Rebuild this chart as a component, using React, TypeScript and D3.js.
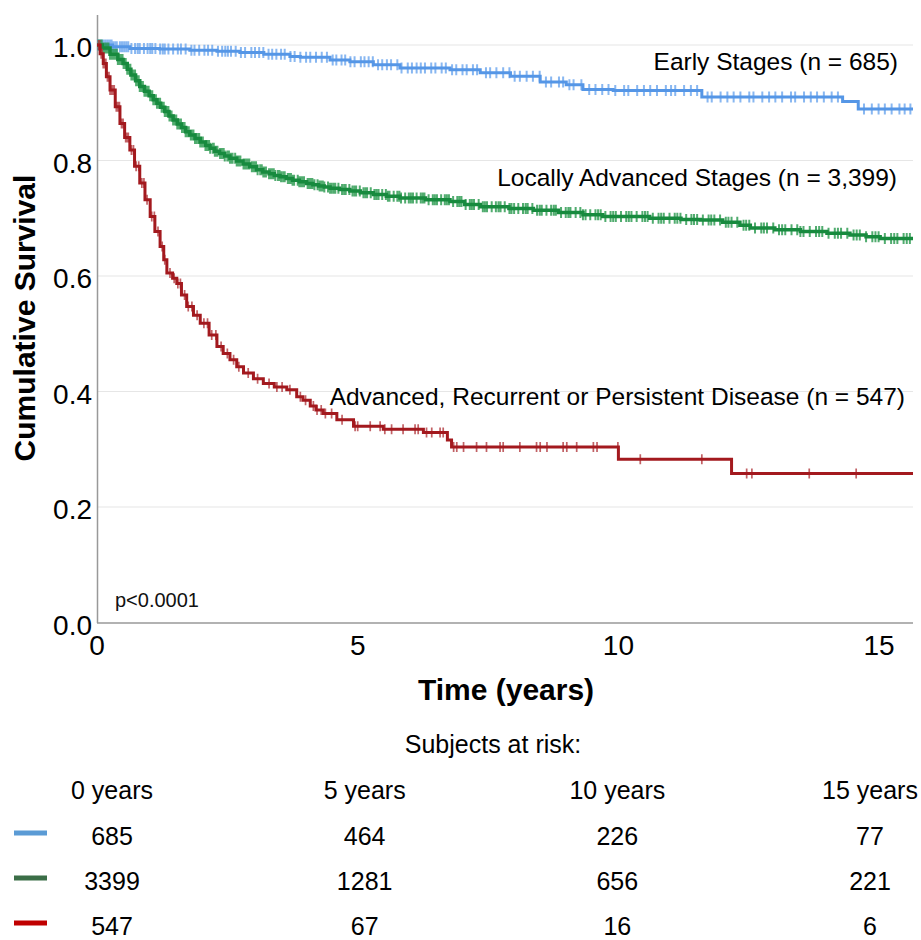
import React from 'react';
import * as d3 from 'd3';

const FONT = '"Liberation Sans", Arial, Helvetica, sans-serif';

// Kaplan-Meier step points [time (years), cumulative survival]
const earlySteps: [number, number][] = [
  [0, 1.0], [0.3, 0.997], [0.63, 0.994], [1.2, 0.993], [1.78, 0.991], [2.3, 0.989],
  [2.74, 0.987], [3.2, 0.984], [3.7, 0.98], [3.9, 0.979], [4.47, 0.974], [4.85, 0.971],
  [5.3, 0.966], [5.81, 0.96], [6.77, 0.957], [7.35, 0.952], [7.93, 0.946], [8.5, 0.936],
  [9.0, 0.931], [9.32, 0.923], [9.9, 0.921], [11.6, 0.91], [14.3, 0.902], [14.6, 0.889],
  [15.65, 0.889],
];
const localSteps: [number, number][] = [
  [0, 1.0], [0.1, 0.995], [0.25, 0.984], [0.4, 0.975], [0.5, 0.968], [0.58, 0.958], [0.65, 0.948],
  [0.74, 0.938], [0.82, 0.928], [0.91, 0.92], [1.0, 0.912], [1.08, 0.905], [1.15, 0.899],
  [1.22, 0.892], [1.3, 0.885], [1.38, 0.877], [1.46, 0.87], [1.54, 0.863], [1.62, 0.857],
  [1.7, 0.85], [1.78, 0.844], [1.88, 0.838], [1.98, 0.832], [2.08, 0.826], [2.17, 0.821],
  [2.26, 0.816], [2.35, 0.812], [2.45, 0.808], [2.55, 0.804], [2.68, 0.799], [2.8, 0.794],
  [2.93, 0.789], [3.06, 0.784], [3.18, 0.78], [3.3, 0.777], [3.4, 0.774], [3.51, 0.772],
  [3.63, 0.769], [3.75, 0.766], [3.88, 0.763], [4.02, 0.76], [4.14, 0.758], [4.25, 0.756],
  [4.36, 0.754], [4.47, 0.752], [4.65, 0.75], [4.85, 0.747], [5.05, 0.744], [5.3, 0.741],
  [5.55, 0.738], [5.81, 0.735], [6.3, 0.732], [6.77, 0.729], [7.05, 0.724], [7.35, 0.72],
  [7.9, 0.717], [8.37, 0.714], [8.85, 0.71], [9.32, 0.706], [9.7, 0.703], [10.6, 0.7],
  [11.2, 0.698], [11.57, 0.697], [12.0, 0.693], [12.33, 0.688], [12.53, 0.683], [13.0, 0.68],
  [13.49, 0.677], [14.0, 0.674], [14.44, 0.671], [14.75, 0.668], [15.02, 0.665], [15.65, 0.665],
];
const advancedSteps: [number, number][] = [
  [0, 1.0], [0.06, 0.985], [0.12, 0.968], [0.18, 0.945], [0.25, 0.922], [0.35, 0.893],
  [0.44, 0.864], [0.53, 0.84], [0.63, 0.818], [0.72, 0.79], [0.82, 0.761], [0.92, 0.732],
  [1.02, 0.703], [1.11, 0.677], [1.21, 0.651], [1.28, 0.628], [1.34, 0.605], [1.45, 0.596],
  [1.53, 0.587], [1.62, 0.567], [1.72, 0.547], [1.85, 0.532], [1.98, 0.518], [2.15, 0.498],
  [2.3, 0.478], [2.42, 0.466], [2.55, 0.455], [2.68, 0.443], [2.81, 0.432], [3.0, 0.422],
  [3.19, 0.414], [3.4, 0.408], [3.64, 0.403], [3.83, 0.391], [3.95, 0.385], [4.09, 0.375],
  [4.2, 0.368], [4.34, 0.362], [4.6, 0.351], [4.92, 0.34], [5.49, 0.3345], [6.26, 0.329],
  [6.72, 0.316], [6.8, 0.304], [10.0, 0.2826], [12.17, 0.258], [15.65, 0.258],
];

// Censoring times (years)
const earlyCensor = [
  0.02, 0.04, 0.07, 0.1, 0.13, 0.17, 0.21, 0.25, 0.28, 0.31, 0.35, 0.38, 0.44, 0.48, 0.52, 0.56,
  0.6, 0.66, 0.73, 0.78, 0.82, 0.9, 0.97, 1.02, 1.06, 1.12, 1.21, 1.26, 1.3, 1.37, 1.46, 1.55,
  1.61, 1.7, 1.81, 1.87, 1.96, 2.06, 2.13, 2.21, 2.32, 2.4, 2.46, 2.51, 2.57, 2.66, 2.76, 2.84,
  2.96, 3.03, 3.11, 3.19, 3.29, 3.36, 3.44, 3.53, 3.6, 3.71, 3.79, 3.9, 4.01, 4.09, 4.2, 4.31,
  4.41, 4.52, 4.59, 4.69, 4.76, 4.86, 4.94, 5.06, 5.13, 5.21, 5.29, 5.39, 5.47, 5.56, 5.64,
  5.76, 5.84, 5.96, 6.04, 6.13, 6.21, 6.29, 6.41, 6.49, 6.61, 6.69, 6.81, 6.89, 7.01, 7.09,
  7.21, 7.29, 7.46, 7.54, 7.66, 7.79, 7.91, 8.01, 8.11, 8.24, 8.36, 8.49, 8.61, 8.71, 8.86,
  8.94, 9.06, 9.14, 9.29, 9.44, 9.56, 9.69, 9.81, 9.94, 10.11, 10.19, 10.36, 10.49, 10.61,
  10.74, 10.91, 11.01, 11.09, 11.26, 11.39, 11.51, 11.71, 11.79, 11.96, 12.09, 12.21, 12.34,
  12.51, 12.59, 12.76, 12.89, 13.01, 13.14, 13.31, 13.39, 13.56, 13.69, 13.81, 13.94, 14.09,
  14.21, 14.71, 14.86, 14.99, 15.11, 15.24, 15.39, 15.49, 15.6,
];
const localCensor = [
  0.03, 0.05, 0.07, 0.09, 0.11, 0.14, 0.16, 0.18, 0.2, 0.22, 0.25, 0.27, 0.29, 0.31, 0.33, 0.36,
  0.38, 0.4, 0.42, 0.44, 0.47, 0.49, 0.51, 0.53, 0.55, 0.58, 0.6, 0.62, 0.64, 0.66, 0.69, 0.71,
  0.73, 0.75, 0.77, 0.8, 0.82, 0.84, 0.86, 0.88, 0.91, 0.93, 0.95, 0.97, 0.99, 1.02, 1.04, 1.06,
  1.08, 1.1, 1.13, 1.15, 1.17, 1.19, 1.21, 1.24, 1.26, 1.28, 1.3, 1.32, 1.35, 1.37, 1.39, 1.41,
  1.43, 1.46, 1.48, 1.5, 1.52, 1.54, 1.57, 1.59, 1.61, 1.63, 1.65, 1.68, 1.7, 1.72, 1.74, 1.76,
  1.8, 1.83, 1.85, 1.88, 1.9, 1.94, 1.96, 1.98, 2.01, 2.03, 2.08, 2.1, 2.12, 2.15, 2.17, 2.22,
  2.24, 2.26, 2.29, 2.31, 2.36, 2.38, 2.4, 2.43, 2.45, 2.5, 2.53, 2.55, 2.58, 2.6, 2.65, 2.68,
  2.7, 2.73, 2.75, 2.81, 2.84, 2.86, 2.89, 2.92, 2.97, 3.0, 3.02, 3.05, 3.08, 3.13, 3.16, 3.19,
  3.22, 3.24, 3.3, 3.33, 3.36, 3.39, 3.42, 3.47, 3.5, 3.53, 3.57, 3.6, 3.66, 3.69, 3.72, 3.75,
  3.78, 3.85, 3.88, 3.91, 3.94, 3.97, 4.04, 4.07, 4.1, 4.13, 4.17, 4.23, 4.27, 4.3, 4.33, 4.36,
  4.43, 4.47, 4.5, 4.54, 4.57, 4.63, 4.7, 4.74, 4.77, 4.84, 4.9, 4.94, 4.97, 5.04, 5.11, 5.15,
  5.18, 5.25, 5.32, 5.36, 5.4, 5.47, 5.54, 5.58, 5.61, 5.69, 5.76, 5.8, 5.83, 5.91, 5.98, 6.02,
  6.06, 6.13, 6.21, 6.25, 6.28, 6.36, 6.44, 6.48, 6.52, 6.6, 6.67, 6.71, 6.75, 6.83, 6.91,
  6.95, 6.99, 7.07, 7.15, 7.19, 7.23, 7.32, 7.4, 7.44, 7.48, 7.57, 7.65, 7.7, 7.74, 7.82, 7.91,
  7.95, 8.0, 8.08, 8.17, 8.22, 8.26, 8.35, 8.44, 8.49, 8.53, 8.62, 8.71, 8.76, 8.8, 8.9, 8.99,
  9.04, 9.08, 9.18, 9.27, 9.32, 9.37, 9.46, 9.56, 9.61, 9.66, 9.75, 9.85, 9.9, 9.95, 10.05,
  10.15, 10.2, 10.25, 10.35, 10.46, 10.51, 10.56, 10.66, 10.77, 10.82, 10.87, 10.98, 11.08,
  11.13, 11.19, 11.3, 11.4, 11.45, 11.51, 11.62, 11.73, 11.78, 11.84, 11.95, 12.06, 12.11,
  12.17, 12.28, 12.4, 12.45, 12.51, 12.62, 12.74, 12.79, 12.85, 12.97, 13.08, 13.14, 13.2,
  13.32, 13.43, 13.49, 13.55, 13.67, 13.79, 13.85, 13.91, 14.03, 14.15, 14.21, 14.27, 14.39,
  14.51, 14.57, 14.63, 14.75, 14.87, 14.93, 14.99, 15.11, 15.23, 15.29, 15.35, 15.47, 15.53,
  15.59,
];
const advancedCensor = [
  0.03, 0.05, 0.08, 0.1, 0.12, 0.14, 0.17, 0.2, 0.23, 0.25, 0.27, 0.3, 0.33, 0.37, 0.4, 0.43,
  0.47, 0.5, 0.55, 0.58, 0.6, 0.66, 0.7, 0.75, 0.8, 0.86, 0.9, 0.96, 1.05, 1.1, 1.17, 1.25, 1.3,
  1.4, 1.48, 1.55, 1.6, 1.68, 1.75, 1.82, 1.92, 2.05, 2.12, 2.2, 2.28, 2.38, 2.5, 2.62, 2.72,
  2.9, 3.08, 3.3, 3.45, 3.55, 3.7, 3.9, 4.0, 4.15, 4.22, 4.3, 4.38, 4.5, 4.7, 4.95, 5.0, 5.24,
  5.43, 5.52, 5.65, 5.87, 6.1, 6.16, 6.32, 6.42, 6.58, 6.64, 6.84, 6.9, 7.03, 7.28, 7.47, 7.73,
  7.79, 8.11, 8.43, 8.5, 8.63, 8.94, 9.01, 9.2, 9.52, 9.59, 9.99, 10.42, 11.6, 12.46, 12.56,
  13.66, 14.56,
];

const yTicks = [0, 0.2, 0.4, 0.6, 0.8, 1.0];
const xTicks = [0, 5, 10, 15];
const riskYears = [0, 5, 10, 15];
const riskEarly = [685, 464, 226, 77];
const riskLocal = [3399, 1281, 656, 221];
const riskAdvanced = [547, 67, 16, 6];
const seriesLabels = [
  'Early Stages (n = 685)',
  'Locally Advanced Stages (n = 3,399)',
  'Advanced, Recurrent or Persistent Disease (n = 547)',
];

const x = d3.scaleLinear().domain([0, 15.65]).range([97, 913]);
const y = d3.scaleLinear().domain([0, 1]).range([622.5, 45]);

function survivalAt(steps: [number, number][], t: number) {
  let v = steps[0][1];
  for (const s of steps) if (s[0] <= t) v = s[1];
  return v;
}

const stepLine = d3
  .line<[number, number]>()
  .x((d) => x(d[0]))
  .y((d) => y(d[1]))
  .curve(d3.curveStepAfter);

function censorPath(steps: [number, number][], times: number[], h: number) {
  return times
    .map((t) => {
      const cx = x(t);
      const cy = y(survivalAt(steps, t));
      return `M${cx.toFixed(2)},${(cy - h).toFixed(2)}V${(cy + h).toFixed(2)}`;
    })
    .join('');
}

const series = [
  { steps: earlySteps, censor: earlyCensor, color: '#5596e6', tick: '#6aa5ed', h: 5.5, tw: 2, lw: 3, label: seriesLabels[0], lx: 898, ly: 70, risk: riskEarly, legend: '#5b9bd5' },
  { steps: localSteps, censor: localCensor, color: '#178a3e', tick: '#26974b', h: 5.5, tw: 2, lw: 3.5, label: seriesLabels[1], lx: 897, ly: 186, risk: riskLocal, legend: '#3b6e47' },
  { steps: advancedSteps, censor: advancedCensor, color: '#a3191e', tick: '#b23a3e', h: 5, tw: 1.7, lw: 3, label: seriesLabels[2], lx: 905, ly: 405, risk: riskAdvanced, legend: '#c00000' },
];

const riskX = d3.scalePoint<number>().domain(riskYears).range([112, 870]);
const rowY = d3.scaleLinear().domain([0, 2]).range([845, 935]);

export default function App() {
  return (
    <svg
      width={921}
      height={940}
      style={{ position: 'absolute', left: 0, top: 0, display: 'block', background: '#fff' }}
      fontFamily={FONT}
    >
      <rect width={921} height={940} fill="#fff" />
      {yTicks.filter((t) => t > 0).map((t) => (
        <line key={t} x1={97} x2={913} y1={y(t)} y2={y(t)} stroke="#e6e6e6" strokeWidth={1.2} />
      ))}
      <line x1={97.5} x2={97.5} y1={15} y2={623} stroke="#999" strokeWidth={1.5} />
      <line x1={97} x2={913} y1={623} y2={623} stroke="#999" strokeWidth={1.5} />
      {yTicks.map((t) => (
        <text key={t} x={92} y={y(t) + 12} textAnchor="end" fontSize={28} fill="#000">
          {t.toFixed(1)}
        </text>
      ))}
      {xTicks.map((t) => (
        <text key={t} x={x(t)} y={655} textAnchor="middle" fontSize={28} fill="#000">
          {t}
        </text>
      ))}
      <text
        transform="translate(35,318) rotate(-90)"
        textAnchor="middle"
        fontSize={30}
        fontWeight="bold"
        fill="#000"
      >
        Cumulative Survival
      </text>
      <text x={506} y={700} textAnchor="middle" fontSize={30} fontWeight="bold" fill="#000">
        Time (years)
      </text>
      <text x={115} y={607} fontSize={20} fill="#111">
        p&lt;0.0001
      </text>
      {series.map((s, i) => (
        <g key={i}>
          <path d={censorPath(s.steps, s.censor, s.h)} stroke={s.tick} strokeWidth={s.tw} strokeOpacity={0.8} fill="none" />
          <path d={stepLine(s.steps) || ''} stroke={s.color} strokeWidth={s.lw} fill="none" />
        </g>
      ))}
      {series.map((s, i) => (
        <text key={i} x={s.lx} y={s.ly} textAnchor="end" fontSize={24.5} fill="#000">
          {s.label}
        </text>
      ))}
      <text x={493} y={753} textAnchor="middle" fontSize={25} fill="#000">
        Subjects at risk:
      </text>
      {riskYears.map((yr) => (
        <text key={yr} x={riskX(yr)} y={799} textAnchor="middle" fontSize={25} fill="#000">
          {yr} years
        </text>
      ))}
      {series.map((s, i) => (
        <g key={i}>
          <line x1={14} x2={47} y1={rowY(i) - 12} y2={rowY(i) - 12} stroke={s.legend} strokeWidth={5} />
          {s.risk.map((v, j) => (
            <text key={j} x={riskX(riskYears[j])} y={rowY(i)} textAnchor="middle" fontSize={25} fill="#000">
              {v}
            </text>
          ))}
        </g>
      ))}
    </svg>
  );
}
